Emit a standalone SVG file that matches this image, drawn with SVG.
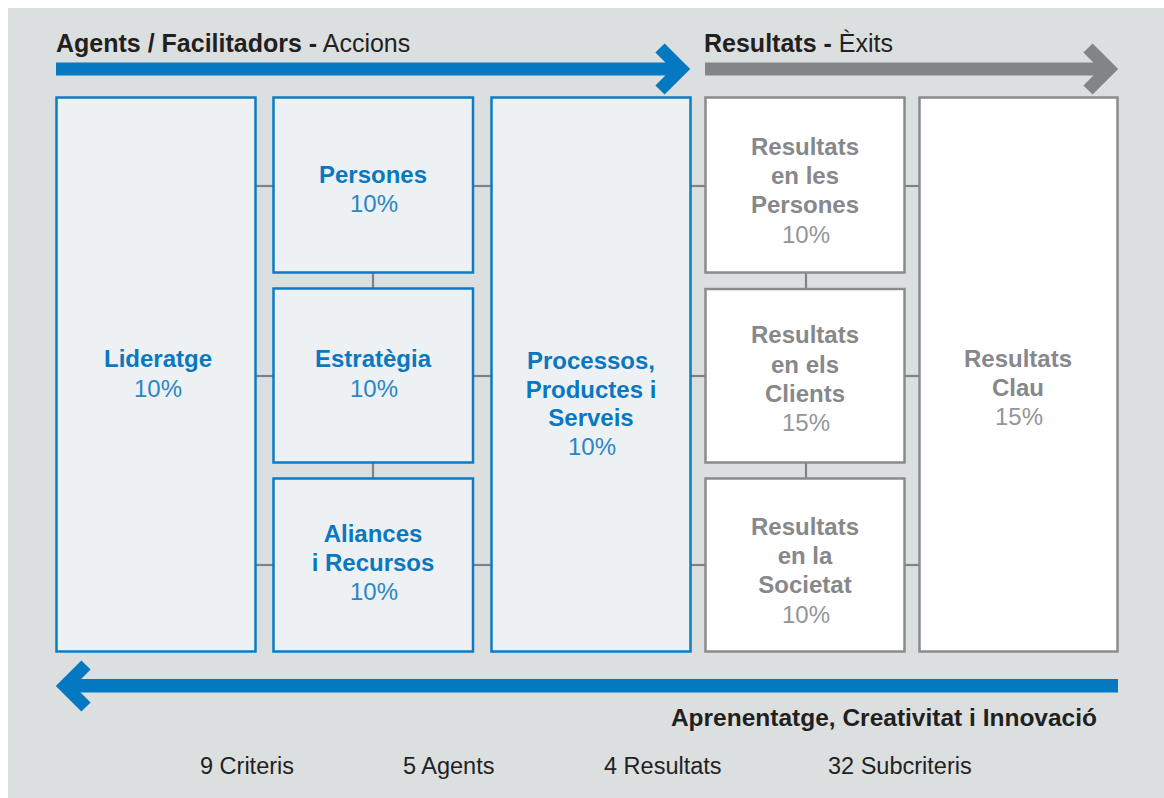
<svg xmlns="http://www.w3.org/2000/svg" width="1164" height="798" viewBox="0 0 1164 798">
<style>
text{font-family:"Liberation Sans",Arial,sans-serif}
.bx{fill:#edf1f3;stroke:#0a7cc4;stroke-width:2.5}
.gx{fill:#ffffff;stroke:#8a8b8d;stroke-width:2.5}
.bt{font-weight:bold;font-size:24px;fill:#0a78c0;text-anchor:middle}
.bp{font-size:24px;fill:#2a86c6;text-anchor:middle}
.gt{font-weight:bold;font-size:24px;fill:#86888b;text-anchor:middle}
.gp{font-size:24px;fill:#939598;text-anchor:middle}
.hd{font-size:25px;fill:#231f20}
.ft{font-size:23.5px;fill:#231f20}
.con line{stroke:#818285;stroke-width:2.2}
</style>
<rect x="8" y="8" width="1156" height="790" fill="#dcdfe0"/>
<!-- arrows -->
<g id="arrows">
<rect x="56" y="62.5" width="622" height="13" fill="#0578c2"/>
<polyline points="660,48 681,69 660,90" fill="none" stroke="#0578c2" stroke-width="13" stroke-linejoin="miter"/>
<rect x="705" y="62.5" width="400" height="13" fill="#838487"/>
<polyline points="1088,48 1109,69 1088,90" fill="none" stroke="#838487" stroke-width="13" stroke-linejoin="miter"/>
<rect x="68" y="679" width="1050" height="13.5" fill="#0578c2"/>
<polyline points="86,665 65,686 86,707" fill="none" stroke="#0578c2" stroke-width="13" stroke-linejoin="miter"/>
</g>
<text class="hd" x="56" y="52"><tspan font-weight="bold">Agents / Facilitadors -</tspan> Accions</text>
<text class="hd" x="704" y="52"><tspan font-weight="bold">Resultats -</tspan> Èxits</text>
<!-- connectors -->
<g id="connectors" class="con">
<line x1="256" y1="186" x2="273" y2="186"/>
<line x1="256" y1="376" x2="273" y2="376"/>
<line x1="256" y1="565" x2="273" y2="565"/>
<line x1="473" y1="186" x2="491" y2="186"/>
<line x1="473" y1="376" x2="491" y2="376"/>
<line x1="473" y1="565" x2="491" y2="565"/>
<line x1="690" y1="186" x2="705" y2="186"/>
<line x1="690" y1="376" x2="705" y2="376"/>
<line x1="690" y1="565" x2="705" y2="565"/>
<line x1="904" y1="186" x2="919" y2="186"/>
<line x1="904" y1="376" x2="919" y2="376"/>
<line x1="904" y1="565" x2="919" y2="565"/>
<line x1="373" y1="273" x2="373" y2="288"/>
<line x1="373" y1="463" x2="373" y2="478"/>
<line x1="806" y1="273" x2="806" y2="288"/>
<line x1="806" y1="463" x2="806" y2="478"/>
</g>
<g id="lideratge">
<rect class="bx" x="56.5" y="97.5" width="199" height="554"/>
<text class="bt" x="158" y="367">Lideratge</text>
<text class="bp" x="158" y="397">10%</text>
</g>
<g id="persones">
<rect class="bx" x="273.5" y="97.5" width="199.5" height="175"/>
<text class="bt" x="373" y="183">Persones</text>
<text class="bp" x="374" y="212">10%</text>
</g>
<g id="estrategia">
<rect class="bx" x="273.5" y="288.5" width="199.5" height="174"/>
<text class="bt" x="373" y="367">Estratègia</text>
<text class="bp" x="374" y="397">10%</text>
</g>
<g id="aliances">
<rect class="bx" x="273.5" y="478.5" width="199.5" height="173"/>
<text class="bt" x="373" y="542">Aliances</text>
<text class="bt" x="373" y="571">i Recursos</text>
<text class="bp" x="374" y="600">10%</text>
</g>
<g id="processos">
<rect class="bx" x="491.5" y="97.5" width="199" height="554"/>
<text class="bt" x="591" y="369">Processos,</text>
<text class="bt" x="591" y="398">Productes i</text>
<text class="bt" x="591" y="426">Serveis</text>
<text class="bp" x="592" y="455">10%</text>
</g>
<g id="res-persones">
<rect class="gx" x="705.5" y="97.5" width="199" height="175"/>
<text class="gt" x="805" y="155">Resultats</text>
<text class="gt" x="805" y="184">en les</text>
<text class="gt" x="805" y="213">Persones</text>
<text class="gp" x="806" y="243">10%</text>
</g>
<g id="res-clients">
<rect class="gx" x="705.5" y="289" width="199" height="173.5"/>
<text class="gt" x="805" y="343">Resultats</text>
<text class="gt" x="805" y="373">en els</text>
<text class="gt" x="805" y="402">Clients</text>
<text class="gp" x="806" y="431">15%</text>
</g>
<g id="res-societat">
<rect class="gx" x="705.5" y="478.5" width="199" height="173"/>
<text class="gt" x="805" y="535">Resultats</text>
<text class="gt" x="805" y="564">en la</text>
<text class="gt" x="805" y="593">Societat</text>
<text class="gp" x="806" y="623">10%</text>
</g>
<g id="res-clau">
<rect class="gx" x="919.5" y="97.5" width="198" height="554"/>
<text class="gt" x="1018" y="367">Resultats</text>
<text class="gt" x="1018" y="396">Clau</text>
<text class="gp" x="1019" y="425">15%</text>
</g>
<text x="1097" y="726" font-weight="bold" font-size="24.5" fill="#231f20" text-anchor="end">Aprenentatge, Creativitat i Innovació</text>
<text class="ft" x="200" y="774">9 Criteris</text>
<text class="ft" x="403" y="774">5 Agents</text>
<text class="ft" x="604" y="774">4 Resultats</text>
<text class="ft" x="828" y="774">32 Subcriteris</text>
</svg>
